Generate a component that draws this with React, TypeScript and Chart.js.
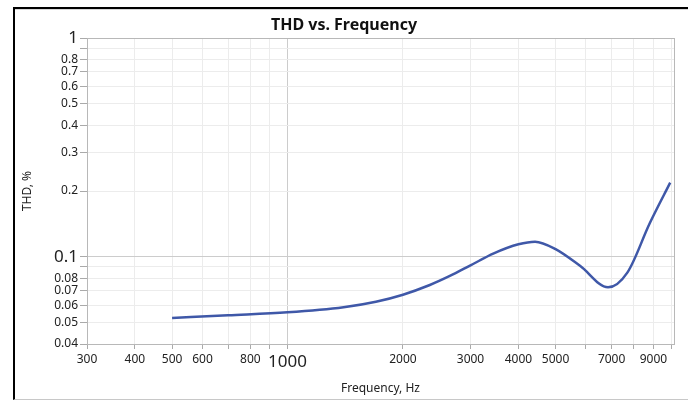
import React, { useEffect, useRef } from "react";
import { Chart, registerables } from "chart.js";

Chart.register(...registerables);

const frequencies = [500, 700, 1000, 1400, 1700, 2000, 2350, 2650, 3000, 3450, 4000, 4420, 5000, 5800, 6850, 7700, 8800, 9950];
const thdValues = [0.0526, 0.0541, 0.0558, 0.0589, 0.0624, 0.0672, 0.0744, 0.0818, 0.0915, 0.1038, 0.1142, 0.1174, 0.1085, 0.0908, 0.0726, 0.085, 0.1424, 0.2183];

const xTicks = [300, 400, 500, 600, 700, 800, 900, 1000, 2000, 3000, 4000, 5000, 6000, 7000, 8000, 9000, 10000];
const xLabeled = [300, 400, 500, 600, 800, 1000, 2000, 3000, 4000, 5000, 7000, 9000];
const yTicks = [0.04, 0.05, 0.06, 0.07, 0.08, 0.09, 0.1, 0.2, 0.3, 0.4, 0.5, 0.6, 0.7, 0.8, 0.9, 1];
const yLabeled = [0.04, 0.05, 0.06, 0.07, 0.08, 0.1, 0.2, 0.3, 0.4, 0.5, 0.6, 0.7, 0.8, 1];

const FONT = "'Noto Sans', 'Open Sans', sans-serif";

const near = (a: number, b: number) => Math.abs(a - b) < 1e-9 * Math.max(1, Math.abs(b));

const areaBorder = {
  id: "areaBorder",
  afterDraw(chart: any) {
    const { ctx, chartArea } = chart;
    ctx.save();
    ctx.strokeStyle = "#b8b8b8";
    ctx.lineWidth = 1;
    ctx.strokeRect(chartArea.left + 0.5, chartArea.top + 0.5, chartArea.right - chartArea.left, chartArea.bottom - chartArea.top);
    ctx.restore();
  },
};

export default function App() {
  const ref = useRef<HTMLCanvasElement | null>(null);
  useEffect(() => {
    if (!ref.current) return;
    const chart = new Chart(ref.current, {
      type: "line",
      data: {
        datasets: [
          {
            data: frequencies.map((f, i) => ({ x: f, y: thdValues[i] })),
            borderColor: "#3f58a8",
            borderWidth: 2.5,
            pointRadius: 0,
            cubicInterpolationMode: "monotone",
            fill: false,
          },
        ],
      },
      plugins: [areaBorder],
      options: {
        animation: false,
        responsive: false,
        maintainAspectRatio: false,
        layout: { padding: { left: 14, right: 14, top: 7.4, bottom: 0 } },
        plugins: {
          legend: { display: false },
          tooltip: { enabled: false },
          title: {
            display: true,
            text: "THD vs. Frequency",
            color: "#111",
            font: { family: FONT, size: 16, weight: "bold" },
            padding: { top: 8, bottom: 3.4 },
          },
        },
        scales: {
          x: {
            type: "logarithmic",
            min: 300,
            max: 10180,
            afterBuildTicks: (s: any) => {
              s.ticks = xTicks.map((v) => ({ value: v }));
            },
            afterFit: (s: any) => {
              s.height = 56;
            },
            ticks: {
              autoSkip: false,
              maxRotation: 0,
              padding: 3,
              color: "#222",
              font: (ctx: any) => ({ family: FONT, size: ctx.tick && ctx.tick.value === 1000 ? 17 : 12 }),
              callback: (v: any) => (xLabeled.some((l) => near(l, Number(v))) ? String(v) : ""),
            },
            grid: {
              color: (ctx: any) => (ctx.tick && ctx.tick.value === 1000 ? "#cccccc" : "#ececec"),
              tickColor: "#aaaaaa",
              tickLength: 5,
            },
            border: { color: "#b8b8b8" },
            title: {
              display: true,
              text: "Frequency, Hz",
              color: "#222",
              font: { family: FONT, size: 12 },
              padding: { top: 4, bottom: 4 },
            },
          },
          y: {
            type: "logarithmic",
            min: 0.04,
            max: 1,
            afterBuildTicks: (s: any) => {
              s.ticks = yTicks.map((v) => ({ value: v }));
            },
            afterFit: (s: any) => {
              s.width = 73;
            },
            ticks: {
              autoSkip: false,
              padding: 2,
              color: "#222",
              font: (ctx: any) => ({ family: FONT, size: ctx.tick && (near(ctx.tick.value, 1) || near(ctx.tick.value, 0.1)) ? 17 : 12 }),
              callback: (v: any) => {
                const n = Number(v);
                const l = yLabeled.find((q) => near(q, n));
                return l === undefined ? "" : String(l);
              },
            },
            grid: {
              color: (ctx: any) => (ctx.tick && near(ctx.tick.value, 0.1) ? "#cccccc" : "#ececec"),
              tickColor: "#aaaaaa",
              tickLength: 7,
            },
            border: { color: "#b8b8b8" },
            title: {
              display: true,
              text: "THD, %",
              color: "#222",
              font: { family: FONT, size: 12 },
              padding: { top: 6.8, bottom: 4 },
            },
          },
        },
      },
    } as any);
    return () => chart.destroy();
  }, []);

  return (
    <div style={{ position: "fixed", left: 0, top: 0, width: 688, height: 400, background: "#fff" }}>
      <canvas ref={ref} width={688} height={400} style={{ position: "absolute", left: 0, top: 0, width: 688, height: 400 }} />
      <div
        style={{
          position: "absolute",
          left: 13,
          top: 7,
          width: 700,
          height: 390,
          borderTop: "2px solid #000",
          borderLeft: "2px solid #000",
          borderBottom: "1px solid #c8c8c8",
          pointerEvents: "none",
        }}
      >
        <div style={{ position: "absolute", left: 0, right: 0, top: 0, height: 1, background: "#d8d8d8" }} />
      </div>
    </div>
  );
}
